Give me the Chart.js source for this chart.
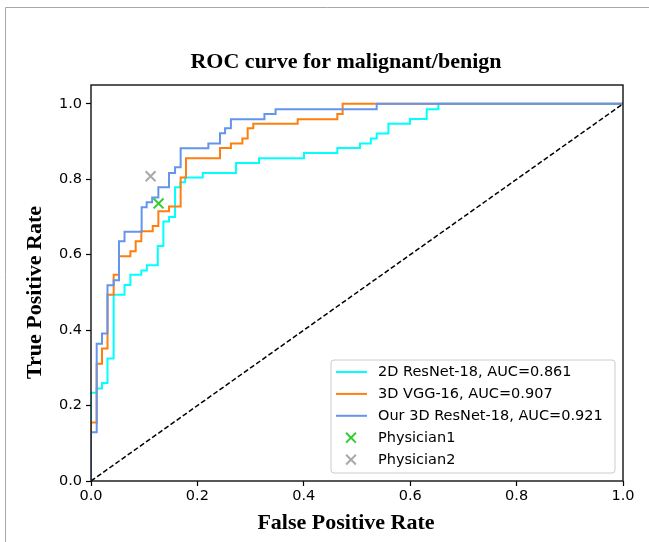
<!DOCTYPE html>
<html>
<head>
<meta charset="utf-8">
<script src="https://cdn.jsdelivr.net/npm/chart.js@4.4.1/dist/chart.umd.min.js"></script>
<style>
  html, body { margin: 0; padding: 0; background: #fff; }
  #wrap { position: relative; width: 649px; height: 542px; }
</style>
</head>
<body>
<div id="wrap"><canvas id="c" width="649" height="542"></canvas></div>
<script>
// ---------- data ----------
const chartTitle = 'ROC curve for malignant/benign';
const xAxisTitle = 'False Positive Rate';
const yAxisTitle = 'True Positive Rate';
const xTicks = [0.0, 0.2, 0.4, 0.6, 0.8, 1.0];
const yTicks = [0.0, 0.2, 0.4, 0.6, 0.8, 1.0];

const seriesLabels = ['2D ResNet-18, AUC=0.861', '3D VGG-16, AUC=0.907', 'Our 3D ResNet-18, AUC=0.921'];
const physicianLabels = ['Physician1', 'Physician2'];

// 2D ResNet-18 ROC vertices
const resnet2dFpr = [0, 0, 0.0107, 0.0107, 0.0207, 0.0207, 0.031, 0.031, 0.0426, 0.0426, 0.063, 0.063, 0.074, 0.074, 0.0946, 0.0946, 0.105, 0.105, 0.1256, 0.1256, 0.136, 0.136, 0.1466, 0.1466, 0.158, 0.158, 0.168, 0.168, 0.177, 0.177, 0.21, 0.21, 0.2726, 0.2726, 0.3158, 0.3158, 0.4004, 0.4004, 0.463, 0.463, 0.5056, 0.5056, 0.526, 0.526, 0.537, 0.537, 0.559, 0.559, 0.5996, 0.5996, 0.631, 0.631, 0.653, 0.653, 1];
const resnet2dTpr = [0, 0.234, 0.234, 0.245, 0.245, 0.26, 0.26, 0.3245, 0.3245, 0.494, 0.494, 0.52, 0.52, 0.547, 0.547, 0.558, 0.558, 0.572, 0.572, 0.623, 0.623, 0.688, 0.688, 0.7, 0.7, 0.779, 0.779, 0.792, 0.792, 0.805, 0.805, 0.8166, 0.8166, 0.843, 0.843, 0.856, 0.856, 0.8695, 0.8695, 0.883, 0.883, 0.895, 0.895, 0.908, 0.908, 0.9215, 0.9215, 0.947, 0.947, 0.96, 0.96, 0.986, 0.986, 1, 1];

// 3D VGG-16 ROC vertices
const vgg3dFpr = [0, 0, 0.0107, 0.0107, 0.0207, 0.0207, 0.031, 0.031, 0.0426, 0.0426, 0.0526, 0.0526, 0.074, 0.074, 0.084, 0.084, 0.0946, 0.0946, 0.116, 0.116, 0.1266, 0.1266, 0.1466, 0.1466, 0.1685, 0.1685, 0.1786, 0.1786, 0.2425, 0.2425, 0.263, 0.263, 0.2845, 0.2845, 0.2945, 0.2945, 0.305, 0.305, 0.3885, 0.3885, 0.463, 0.463, 0.473, 0.473, 1];
const vgg3dTpr = [0, 0.155, 0.155, 0.311, 0.311, 0.351, 0.351, 0.494, 0.494, 0.547, 0.547, 0.596, 0.596, 0.609, 0.609, 0.636, 0.636, 0.662, 0.662, 0.676, 0.676, 0.715, 0.715, 0.728, 0.728, 0.805, 0.805, 0.856, 0.856, 0.883, 0.883, 0.895, 0.895, 0.908, 0.908, 0.935, 0.935, 0.947, 0.947, 0.959, 0.959, 0.973, 0.973, 1, 1];

// Our 3D ResNet-18 ROC vertices
const ours3dFpr = [0, 0, 0.0107, 0.0107, 0.0207, 0.0207, 0.031, 0.031, 0.0426, 0.0426, 0.0526, 0.0526, 0.063, 0.063, 0.0952, 0.0952, 0.1046, 0.1046, 0.115, 0.115, 0.1266, 0.1266, 0.1466, 0.1466, 0.158, 0.158, 0.1685, 0.1685, 0.2206, 0.2206, 0.2425, 0.2425, 0.252, 0.252, 0.263, 0.263, 0.326, 0.326, 0.347, 0.347, 0.537, 0.537, 1];
const ours3dTpr = [0, 0.129, 0.129, 0.364, 0.364, 0.391, 0.391, 0.519, 0.519, 0.532, 0.532, 0.636, 0.636, 0.661, 0.661, 0.726, 0.726, 0.739, 0.739, 0.752, 0.752, 0.779, 0.779, 0.8166, 0.8166, 0.832, 0.832, 0.882, 0.882, 0.895, 0.895, 0.922, 0.922, 0.935, 0.935, 0.959, 0.959, 0.973, 0.973, 0.986, 0.986, 1, 1];

// physician operating points [fpr, tpr]
const physician1 = [0.127, 0.736];
const physician2 = [0.112, 0.808];

// chance line
const chanceFpr = [0, 1];
const chanceTpr = [0, 1];

// ---------- styling ----------
const seriesColors = ['#00ffff', '#ff7f0e', '#6495ed'];
const physicianColors = ['#32cd32', '#a9a9a9'];
const SANS = 'DejaVu Sans';
const SERIF = 'Liberation Serif';

function pts(xs, ys) { return xs.map((x, i) => ({ x: x, y: ys[i] })); }

const lineDs = (label, xs, ys, color, order) => ({
  label: label, data: pts(xs, ys), showLine: true, borderColor: color, backgroundColor: color,
  borderWidth: 2, pointRadius: 0, pointHoverRadius: 0, fill: false, tension: 0, order: order
});
const markDs = (label, p, color) => ({
  label: label, data: [{ x: p[0], y: p[1] }], showLine: false, pointStyle: 'crossRot',
  pointRadius: 7, pointHoverRadius: 7, pointBorderWidth: 2, pointHoverBorderWidth: 2,
  borderColor: color, backgroundColor: color, order: 0
});

const datasets = [
  lineDs(seriesLabels[0], resnet2dFpr, resnet2dTpr, seriesColors[0], 4),
  lineDs(seriesLabels[1], vgg3dFpr, vgg3dTpr, seriesColors[1], 3),
  lineDs(seriesLabels[2], ours3dFpr, ours3dTpr, seriesColors[2], 2),
  markDs(physicianLabels[0], physician1, physicianColors[0]),
  markDs(physicianLabels[1], physician2, physicianColors[1]),
  { label: '', data: pts(chanceFpr, chanceTpr), showLine: true, borderColor: '#000', borderWidth: 1.5,
    borderDash: [5, 2.5], pointRadius: 0, pointHoverRadius: 0, fill: false, order: 1, isChance: true }
];

// ---------- plugins ----------
const TITLE_CX = 346;       // visual centre of title / x label
const XLABEL_SHIFT = -11;
const YLABEL_SHIFT = 9.5;

const framePlugin = {
  id: 'frame',
  beforeDraw(chart) {
    const ctx = chart.ctx;
    ctx.save();
    ctx.fillStyle = '#fff';
    ctx.fillRect(0, 0, chart.width, chart.height);
    ctx.strokeStyle = '#a8a8a8';
    ctx.lineWidth = 1;
    ctx.beginPath();
    ctx.moveTo(5.5, chart.height);
    ctx.lineTo(5.5, 7.5);
    ctx.lineTo(chart.width, 7.5);
    ctx.stroke();
    ctx.restore();
    const tb = chart.titleBlock;
    if (tb) { tb.left = 0; tb.right = 2 * TITLE_CX; }
  },
  afterLayout(chart) {
    const sx = chart.scales.x, sy = chart.scales.y;
    if (sx && !sx.__patched) {
      const o = sx.drawTitle;
      sx.drawTitle = function () {
        const l = this.left, r = this.right;
        this.left = l + XLABEL_SHIFT; this.right = r + XLABEL_SHIFT;
        o.call(this);
        this.left = l; this.right = r;
      };
      sx.__patched = true;
    }
    if (sy && !sy.__patched) {
      const o = sy.drawTitle;
      sy.drawTitle = function () {
        const t = this.top, b = this.bottom;
        this.top = t + YLABEL_SHIFT; this.bottom = b + YLABEL_SHIFT;
        o.call(this);
        this.top = t; this.bottom = b;
      };
      sy.__patched = true;
    }
  },
  afterDatasetsDraw(chart) {
    const a = chart.chartArea, ctx = chart.ctx;
    ctx.save();
    ctx.strokeStyle = '#111';
    ctx.lineWidth = 1.4;
    ctx.strokeRect(a.left, a.top, a.right - a.left, a.bottom - a.top);
    ctx.restore();
  },
  afterDraw(chart) {
    const ctx = chart.ctx;
    const a = chart.chartArea;
    const items = chart.data.datasets.filter(d => !d.isChance);
    const bx = 331, by = 360, bw = 284, bh = 113, rad = 3;
    ctx.save();
    ctx.beginPath();
    ctx.moveTo(bx + rad, by);
    ctx.arcTo(bx + bw, by, bx + bw, by + bh, rad);
    ctx.arcTo(bx + bw, by + bh, bx, by + bh, rad);
    ctx.arcTo(bx, by + bh, bx, by, rad);
    ctx.arcTo(bx, by, bx + bw, by, rad);
    ctx.closePath();
    ctx.fillStyle = 'rgba(255,255,255,0.85)';
    ctx.fill();
    ctx.strokeStyle = '#cccccc';
    ctx.lineWidth = 1;
    ctx.stroke();
    const y0 = 372, step = 21.9;
    ctx.font = '14.5px "' + SANS + '"';
    ctx.textBaseline = 'middle';
    ctx.textAlign = 'left';
    items.forEach((d, i) => {
      const y = y0 + i * step;
      ctx.strokeStyle = d.borderColor;
      ctx.lineWidth = 2;
      ctx.beginPath();
      if (d.showLine) {
        ctx.moveTo(336, y); ctx.lineTo(367, y);
      } else {
        const s = 4.9, cx = 351;
        ctx.moveTo(cx - s, y - s); ctx.lineTo(cx + s, y + s);
        ctx.moveTo(cx - s, y + s); ctx.lineTo(cx + s, y - s);
      }
      ctx.stroke();
      ctx.fillStyle = '#000';
      ctx.fillText(d.label, 378, y + 0.5);
    });
    ctx.restore();
  }
};

// ---------- chart ----------
new Chart(document.getElementById('c'), {
  type: 'scatter',
  data: { datasets: datasets },
  options: {
    responsive: false,
    animation: false,
    events: [],
    layout: { padding: { left: 0, right: 26, top: 0, bottom: 0 } },
    plugins: {
      legend: { display: false },
      tooltip: { enabled: false },
      title: {
        display: true, text: chartTitle, color: '#000',
        font: { family: SERIF, size: 22, weight: 'bold' },
        padding: { top: 49, bottom: 9.6 }
      }
    },
    scales: {
      x: {
        type: 'linear', position: 'bottom', min: 0, max: 1,
        afterBuildTicks: s => { s.ticks = xTicks.map(v => ({ value: v })); },
        afterFit: s => { s.height = 61; },
        ticks: { callback: v => Number(v).toFixed(1), color: '#000', padding: 2,
                 font: { family: SANS, size: 14.5 }, maxRotation: 0, autoSkip: false },
        grid: { display: true, drawOnChartArea: false, drawTicks: true, tickLength: 5,
                tickColor: '#000', tickWidth: 1.2, color: '#000' },
        border: { display: false },
        title: { display: true, text: xAxisTitle, color: '#000',
                 font: { family: SERIF, size: 22, weight: 'bold' }, padding: { top: 0, bottom: 5.3 } }
      },
      y: {
        type: 'linear', position: 'left', min: 0, max: 1.05,
        afterBuildTicks: s => { s.ticks = yTicks.map(v => ({ value: v })); },
        afterFit: s => { s.width = 91; },
        ticks: { callback: v => Number(v).toFixed(1), color: '#000', padding: 4,
                 font: { family: SANS, size: 14.5 }, autoSkip: false },
        grid: { display: true, drawOnChartArea: false, drawTicks: true, tickLength: 5,
                tickColor: '#000', tickWidth: 1.2, color: '#000' },
        border: { display: false },
        title: { display: true, text: yAxisTitle, color: '#000',
                 font: { family: SERIF, size: 22, weight: 'bold' }, padding: { top: 22.3, bottom: 0 } }
      }
    }
  },
  plugins: [framePlugin]
});
</script>
</body>
</html>
